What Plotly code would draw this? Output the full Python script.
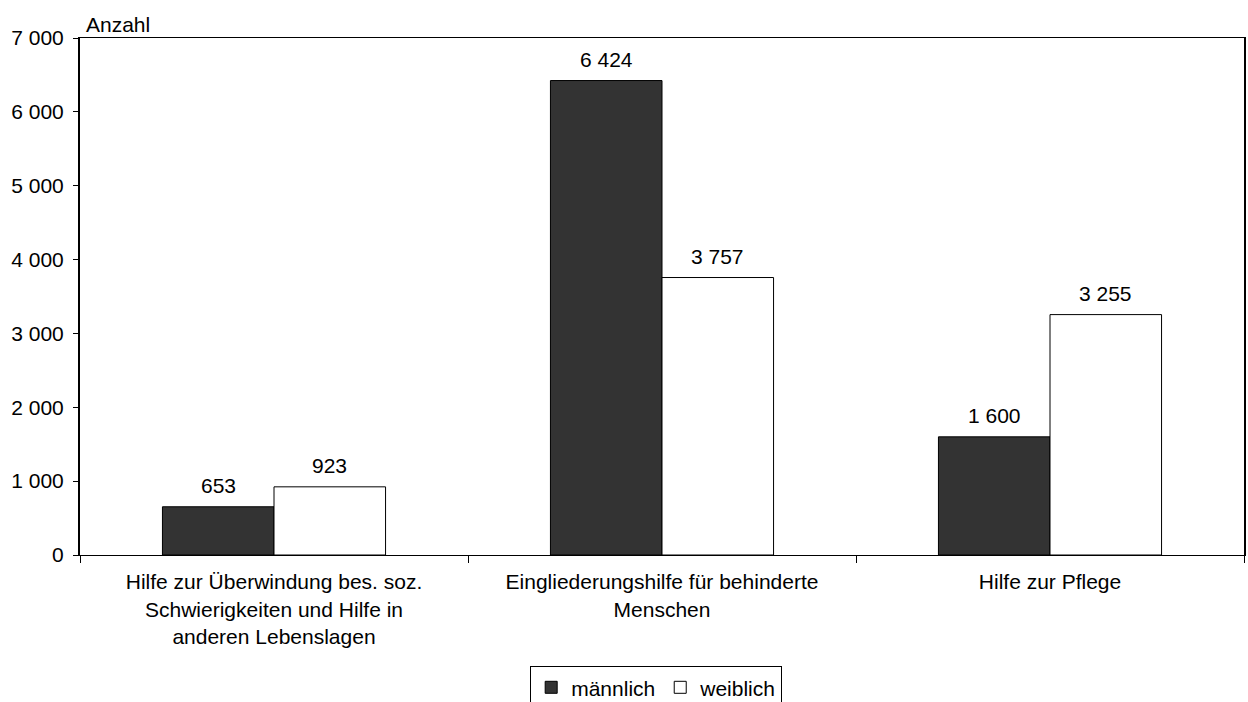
import plotly.graph_objects as go

categories = [
    "Hilfe zur Überwindung bes. soz.<br>Schwierigkeiten und Hilfe in<br>anderen Lebenslagen",
    "Eingliederungshilfe für behinderte<br>Menschen",
    "Hilfe zur Pflege",
]
maennlich = [653, 6424, 1600]
weiblich = [923, 3757, 3255]
y_ticks = [0, 1000, 2000, 3000, 4000, 5000, 6000, 7000]

def fmt(v):
    return f"{v:,}".replace(",", " ")

font = dict(family="Liberation Sans, Arial, sans-serif", size=21, color="black")

W, H = 1248, 702
ML, MR, MT, MB = 80, 4, 38, 147
BARGAP = 0.425
cat_px = (W - ML - MR) / len(categories)
bar_px = cat_px * (1 - BARGAP) / 2

fig = go.Figure()
fig.add_trace(go.Bar(
    x=categories, y=maennlich, name="männlich",
    marker=dict(color="#333333", line=dict(color="black", width=1)),
))
fig.add_trace(go.Bar(
    x=categories, y=weiblich, name="weiblich",
    marker=dict(color="white", line=dict(color="black", width=1)),
))

annotations = [dict(text="Anzahl", xref="paper", yref="paper", x=0, y=1,
                    xanchor="left", yanchor="bottom", showarrow=False, font=font,
                    xshift=4, yshift=0)]
for series, shift in ((maennlich, -bar_px / 2), (weiblich, bar_px / 2)):
    for c, v in zip(categories, series):
        annotations.append(dict(x=c, y=v, xref="x", yref="y", text=fmt(v),
                                showarrow=False, xanchor="center", yanchor="bottom",
                                xshift=shift, yshift=8, font=font))

fig.update_layout(
    width=W, height=H,
    margin=dict(l=ML, r=MR, t=MT, b=MB, autoexpand=False),
    paper_bgcolor="white", plot_bgcolor="white",
    font=font,
    barmode="group", bargap=BARGAP, bargroupgap=0,
    showlegend=True,
    legend=dict(orientation="h", x=0.495, xanchor="center", y=-0.215, yanchor="top",
                bordercolor="black", borderwidth=1, font=font,
                itemwidth=30, tracegroupgap=0),
    xaxis=dict(type="category", tickson="boundaries", ticks="outside", ticklen=7,
               tickcolor="black", showline=True, linecolor="black", linewidth=1,
               mirror=True, showgrid=False, tickfont=font, automargin=False,
               ticklabelstandoff=8),
    yaxis=dict(range=[0, 7000], tickvals=y_ticks, ticktext=[fmt(v) for v in y_ticks],
               ticks="outside", ticklen=5, tickcolor="black",
               showline=True, linecolor="black", linewidth=2, mirror=True,
               showgrid=False, zeroline=False, tickfont=font, automargin=False,
               ticklabelstandoff=5),
    annotations=annotations,
)

fig.write_html("out.html")
